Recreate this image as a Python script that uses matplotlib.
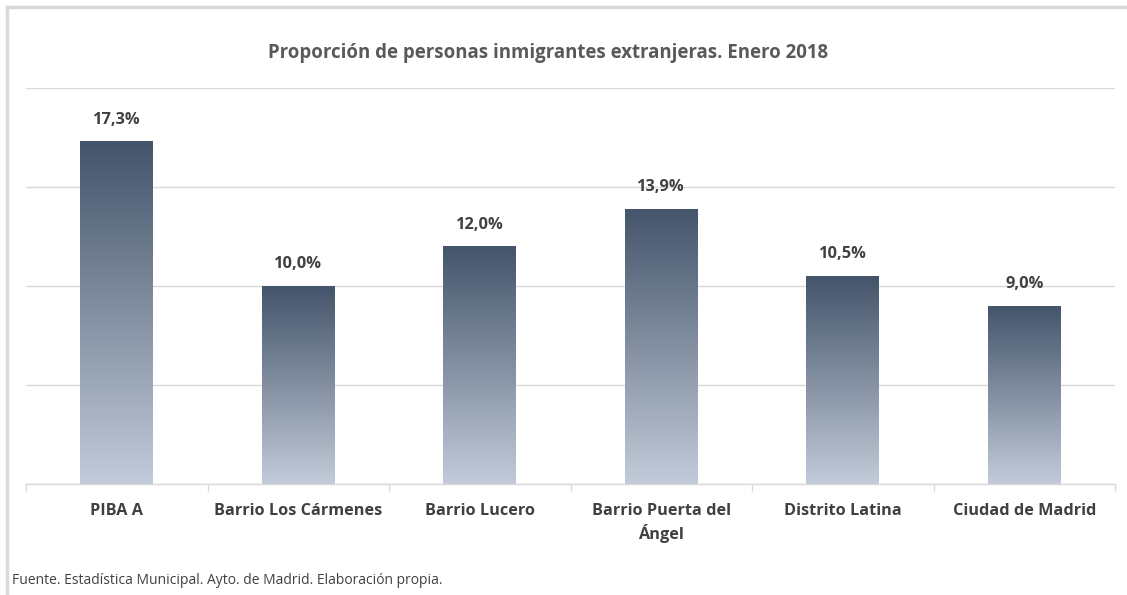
import matplotlib
matplotlib.use("Agg")
import matplotlib.pyplot as plt
import numpy as np
from matplotlib.colors import LinearSegmentedColormap
from matplotlib.patches import Rectangle

categories = ["PIBA A", "Barrio Los Cármenes", "Barrio Lucero", "Barrio Puerta del\nÁngel", "Distrito Latina", "Ciudad de Madrid"]
values = [17.3, 10.0, 12.0, 13.9, 10.5, 9.0]
labels = ["17,3%", "10,0%", "12,0%", "13,9%", "10,5%", "9,0%"]
title = "Proporción de personas inmigrantes extranjeras. Enero 2018"
source = "Fuente. Estadística Municipal. Ayto. de Madrid. Elaboración propia."

plt.rcParams['font.family'] = ['Open Sans', 'DejaVu Sans']

W, H = 1127, 595
fig = plt.figure(figsize=(W/100, H/100), dpi=100)
fig.patch.set_facecolor('white')

# outer frame
fig.add_artist(plt.Line2D([7/W, 7/W], [0, 1-7/H], color='#d9d9d9', lw=2.5, transform=fig.transFigure))
fig.add_artist(plt.Line2D([7/W, 1], [1-7/H, 1-7/H], color='#d9d9d9', lw=2.5, transform=fig.transFigure))

left, right = 26/W, 1115/W
bottom, top = 1-484/H, 1-88/H
ax = fig.add_axes([left, bottom, right-left, top-bottom])
ax.set_xlim(-0.5, len(categories)-0.5)
ax.set_ylim(0, 20)
ax.set_yticks([0, 5, 10, 15, 20])
ax.yaxis.grid(True, color='#d9d9d9', lw=1)
ax.set_axisbelow(True)
for s in ['top', 'right', 'left']:
    ax.spines[s].set_visible(False)
ax.spines['bottom'].set_color('#d9d9d9')
ax.spines['bottom'].set_linewidth(1)
ax.tick_params(axis='y', left=False, labelleft=False)

x = np.arange(len(categories))
bars = ax.bar(x, values, width=0.4, color='none', edgecolor='none', zorder=2)
cmap = LinearSegmentedColormap.from_list('g', ['#c2cbd9', '#44546a'])
grad = np.linspace(0, 1, 256).reshape(-1, 1)
for b in bars:
    x0, y0, w, h = b.get_x(), b.get_y(), b.get_width(), b.get_height()
    im = ax.imshow(grad, extent=[x0, x0+w, y0, y0+h], origin='lower', cmap=cmap, aspect='auto', zorder=2)
    im.set_clip_path(Rectangle((x0, y0), w, h, transform=ax.transData))
ax.set_xlim(-0.5, len(categories)-0.5)
ax.set_ylim(0, 20)

for xi, v, lab in zip(x, values, labels):
    ax.annotate(lab, (xi, v), xytext=(0, 10), textcoords='offset points', ha='center', va='bottom',
                fontsize=11.8, fontweight='bold', color='#404040')

# ticks between categories
ax.set_xticks(np.arange(-0.5, len(categories), 1.0), minor=True)
ax.tick_params(axis='x', which='minor', length=5, color='#d9d9d9', width=1)
ax.set_xticks(x)
ax.set_xticklabels(categories, fontsize=11.7, fontweight='bold', color='#404040', linespacing=1.3)
ax.tick_params(axis='x', which='major', length=0, pad=14)

fig.text(548/W, 1-53/H, title, ha='center', va='center', fontsize=13.4, fontweight='bold', color='#595959')
fig.text(12/W, 1-580/H, source, ha='left', va='center', fontsize=10, color='#404040')

fig.savefig('out.png', dpi=100)
